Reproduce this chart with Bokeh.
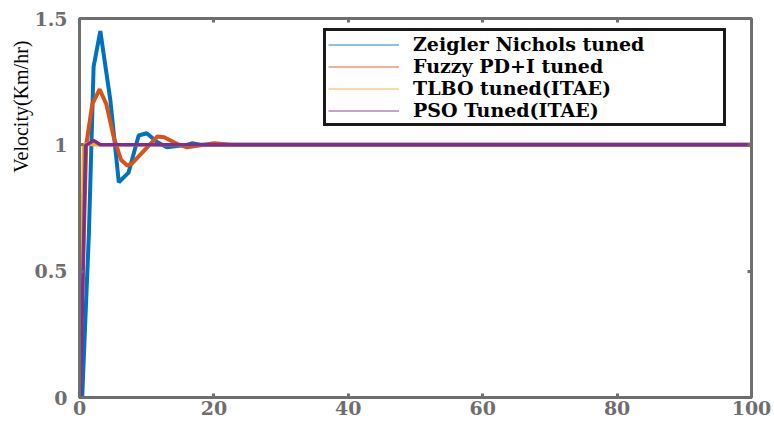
from bokeh.plotting import figure
from bokeh.models import Legend, LegendItem, LinearAxis, FixedTicker, Range1d, Title
from bokeh.embed import file_html
from bokeh.resources import INLINE

# Step responses of the speed controller (time in s, velocity in Km/hr)
t_zn = [0, 0.4, 1.4, 2.1, 3.1, 4.6, 5.85, 7.3, 8.8, 10.0, 11.6, 13.0, 16.0, 16.7, 18.0, 100]
v_zn = [0, 0.0, 0.65, 1.31, 1.45, 1.175, 0.852, 0.89, 1.037, 1.046, 1.01, 0.99, 1.0, 1.006, 1.0, 1.0]

t_fz = [0, 1.0, 1.9, 3.0, 4.0, 5.1, 6.2, 7.1, 7.8, 11.6, 12.6, 14.5, 16.0, 20.0, 22.5, 100]
v_fz = [0, 1.0, 1.16, 1.22, 1.16, 1.03, 0.94, 0.918, 0.926, 1.033, 1.03, 1.004, 0.99, 1.006, 1.0, 1.0]

t_tl = [0, 0.1, 0.6, 1.2, 2.0, 100]
v_tl = [0, 0.0, 1.0, 1.005, 1.0, 1.0]

t_ps = [0, 0.15, 0.9, 2.1, 3.1, 100]
v_ps = [0, 0.0, 0.997, 1.017, 1.0, 1.0]

series_names = ["Zeigler Nichols tuned", "Fuzzy PD+I tuned", "TLBO tuned(ITAE)", "PSO Tuned(ITAE)"]
series_colors = ["#0072BD", "#D95319", "#EDB120", "#7E2F8E"]

x_ticks = [0, 20, 40, 60, 80, 100]
y_ticks = [0, 0.5, 1, 1.5]
y_tick_labels = ["0", "0.5", "1", "1.5"]

AXIS_GRAY = "#6E6E6E"
TICK_FONT = "DejaVu Serif"

p = figure(width=774, height=423, output_backend="svg", toolbar_location=None,
           x_range=Range1d(0, 100), y_range=Range1d(0, 1.5),
           min_border_left=79, min_border_right=23, min_border_top=18, min_border_bottom=26)
p.grid.visible = False
p.outline_line_color = AXIS_GRAY
p.outline_line_width = 3
p.background_fill_color = "white"
p.border_fill_color = "white"

for ax in (p.xaxis[0], p.yaxis[0]):
    ax.axis_line_color = AXIS_GRAY
    ax.axis_line_width = 3
    ax.major_tick_in = 4
    ax.major_tick_out = 0
    ax.major_tick_line_width = 3
    ax.major_tick_line_color = AXIS_GRAY
    ax.minor_tick_line_color = None
    ax.major_label_text_font = TICK_FONT
    ax.major_label_text_font_style = "bold"
    ax.major_label_text_font_size = "19px"
    ax.major_label_text_color = AXIS_GRAY

p.xaxis.ticker = FixedTicker(ticks=x_ticks)
p.xaxis.major_label_standoff = 3
p.yaxis.ticker = FixedTicker(ticks=y_ticks)
p.yaxis.major_label_overrides = {v: s for v, s in zip(y_ticks, y_tick_labels)}
p.yaxis.major_label_standoff = 12

# Box ticks on the top and right edges (no labels drawn)
box_style = dict(axis_line_color=None, major_tick_in=4, major_tick_out=0,
                 major_tick_line_width=3, major_tick_line_color=AXIS_GRAY,
                 minor_tick_line_color=None, major_label_text_color=None,
                 major_label_text_font_size="1px", major_label_standoff=0)
p.add_layout(LinearAxis(ticker=FixedTicker(ticks=x_ticks), **box_style), "above")
p.add_layout(LinearAxis(ticker=FixedTicker(ticks=y_ticks), **box_style), "right")

widths = [4, 4, 3.5, 3.5]
data = [(t_zn, v_zn), (t_fz, v_fz), (t_tl, v_tl), (t_ps, v_ps)]
for (t, v), c, w in zip(data, series_colors, widths):
    p.line(t, v, line_color=c, line_width=w)

# thin sample lines for the legend
nan = float("nan")
items = []
for name, c in zip(series_names, series_colors):
    r = p.line([nan], [nan], line_color=c, line_width=1.5, line_alpha=0.6)
    items.append(LegendItem(label=name, renderers=[r]))

legend = Legend(items=items, location=(244, 271),
                border_line_color="#1a1a1a", border_line_width=3, border_line_alpha=1,
                padding=2, spacing=0, margin=0,
                glyph_width=71, glyph_height=21, label_height=21,
                label_standoff=14, label_width=308,
                label_text_font="DejaVu Serif", label_text_font_style="bold",
                label_text_font_size="19px", label_text_color="black",
                background_fill_color="white", background_fill_alpha=1)
p.add_layout(legend, "center")

p.add_layout(Title(text="Velocity(Km/hr)", align="right", offset=22,
                   text_font="Liberation Serif", text_font_size="20px",
                   text_font_style="normal", text_color="black", standoff=0), "left")

open("out.html", "w").write(file_html(p, INLINE))
